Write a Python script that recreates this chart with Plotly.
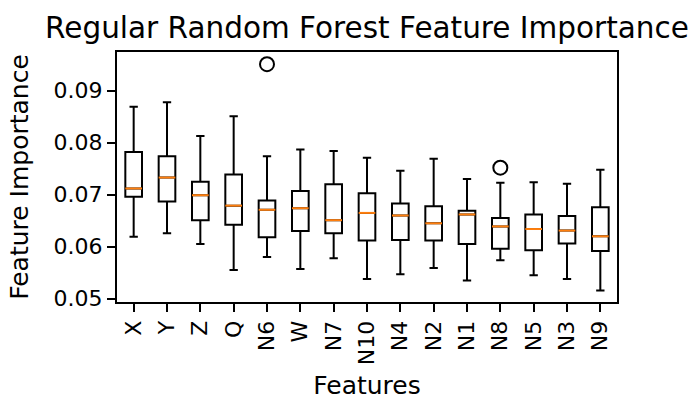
import plotly.graph_objects as go

# Feature names in plotted order
features = ["X", "Y", "Z", "Q", "N6", "W", "N7", "N10", "N4", "N2",
            "N1", "N8", "N5", "N3", "N9"]

# Box statistics per feature (importance over repeated fits)
lower_whisker = [0.0619, 0.0626, 0.0605, 0.0555, 0.0580, 0.0557, 0.0578, 0.0538,
                 0.0547, 0.0559, 0.0535, 0.0574, 0.0545, 0.0538, 0.0516]
q1 = [0.0696, 0.0687, 0.0651, 0.0642, 0.0618, 0.0630, 0.0626, 0.0612,
      0.0613, 0.0612, 0.0605, 0.0596, 0.0593, 0.0606, 0.0592]
median = [0.0712, 0.0733, 0.0699, 0.0679, 0.0671, 0.0674, 0.0651, 0.0665,
          0.0660, 0.0645, 0.0662, 0.0639, 0.0634, 0.0631, 0.0620]
q3 = [0.0782, 0.0774, 0.0725, 0.0739, 0.0689, 0.0707, 0.0720, 0.0703,
      0.0683, 0.0678, 0.0669, 0.0655, 0.0662, 0.0659, 0.0676]
upper_whisker = [0.0869, 0.0878, 0.0813, 0.0851, 0.0774, 0.0787, 0.0784, 0.0771,
                 0.0746, 0.0769, 0.0730, 0.0723, 0.0724, 0.0721, 0.0748]

# Outlying runs
outlier_feature = ["N6", "N8"]
outlier_value = [0.0951, 0.0752]

positions = list(range(1, len(features) + 1))
box_width = 0.5
FONT = "DejaVu Sans"

fig = go.Figure()

fig.add_trace(go.Box(
    x=positions,
    q1=q1, median=median, q3=q3,
    lowerfence=lower_whisker, upperfence=upper_whisker,
    width=box_width,
    whiskerwidth=0.5,
    boxpoints=False,
    fillcolor="rgba(255,255,255,0)",
    line=dict(color="black", width=2),
    showlegend=False,
    hoverinfo="skip",
))

# Orange median bars drawn over each box
med_x, med_y = [], []
for p, m in zip(positions, median):
    med_x += [p - box_width / 2, p + box_width / 2, None]
    med_y += [m, m, None]
fig.add_trace(go.Scatter(
    x=med_x, y=med_y, mode="lines",
    line=dict(color="#ff7f0e", width=2),
    showlegend=False, hoverinfo="skip",
))

fig.add_trace(go.Scatter(
    x=[features.index(f) + 1 for f in outlier_feature],
    y=outlier_value,
    mode="markers",
    marker=dict(symbol="circle-open", size=14, color="black",
                line=dict(color="black", width=2)),
    showlegend=False, hoverinfo="skip",
))

fig.update_layout(
    width=696, height=400,
    margin=dict(l=117, r=79, t=52, b=98),
    paper_bgcolor="white", plot_bgcolor="white",
    font=dict(family=FONT, size=22, color="black"),
    title=dict(
        text="Regular Random Forest Feature Importance",
        font=dict(family=FONT, size=29.5, color="black"),
        x=0.5, xref="paper", xanchor="center",
        y=1 - 28 / 400, yref="container", yanchor="middle",
    ),
    xaxis=dict(
        range=[0.5, len(features) + 0.5],
        tickmode="array", tickvals=positions, ticktext=features,
        tickangle=-90,
        ticks="outside", ticklen=8, tickwidth=2, tickcolor="black",
        showline=True, linecolor="black", linewidth=2, mirror=True,
        showgrid=False, zeroline=False, automargin=False,
        title=dict(text="Features", font=dict(family=FONT, size=25), standoff=15),
        tickfont=dict(family=FONT, size=22),
    ),
    yaxis=dict(
        range=[0.04937, 0.09744],
        tickmode="array", tickvals=[0.05, 0.06, 0.07, 0.08, 0.09],
        tickformat=".2f",
        ticks="outside", ticklen=8, tickwidth=2, tickcolor="black",
        showline=True, linecolor="black", linewidth=2, mirror=True,
        showgrid=False, zeroline=False, automargin=False,
        title=dict(text="Feature Importance", font=dict(family=FONT, size=25), standoff=18),
        tickfont=dict(family=FONT, size=22),
    ),
)

fig.write_html("out.html")
